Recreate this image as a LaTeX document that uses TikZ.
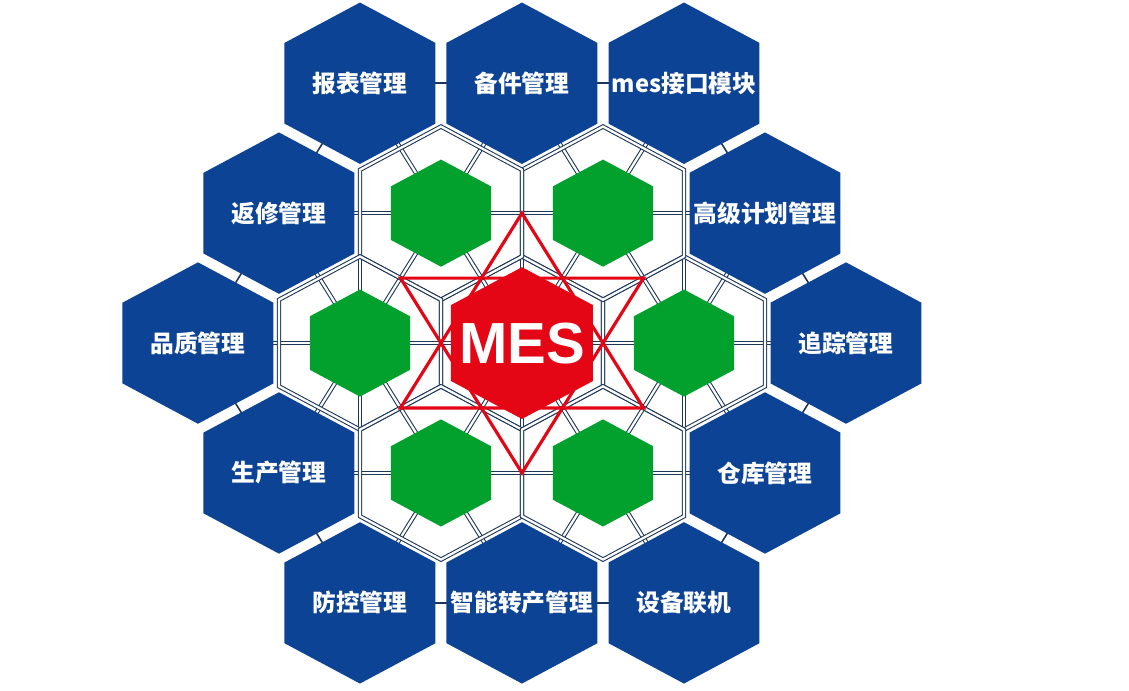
\documentclass[tikz,border=0pt]{standalone}
\usepackage{fontspec}
\usepackage{xcolor}
\usepackage{tikz}
\newfontfamily\cjk{Noto Sans CJK SC}
\newfontfamily\latin{Liberation Sans}
\definecolor{mesblue}{RGB}{13, 67, 148}
\definecolor{mesgreen}{RGB}{2, 160, 44}
\definecolor{mesred}{RGB}{228, 6, 20}
\definecolor{railgray}{RGB}{28, 54, 88}
\newcommand{\hexpath}[1]{(30:#1) -- (90:#1) -- (150:#1) -- (210:#1) -- (270:#1) -- (330:#1) -- cycle}

\begin{document}
\begin{tikzpicture}[x=3.24cm, y=3cm,
  rail/.style={draw=railgray, line width=0.6pt, double=white, double distance=1.3pt},
  link/.style={draw=railgray, line width=0.9pt},
  modlabel/.style={text=white, font=\cjk\bfseries\fontsize{13.5}{15}\selectfont},
  starline/.style={draw=mesred, line width=1.8pt}]
\useasboundingbox (-3.222,2.287) rectangle (3.747,-2.313);
\fill[white] (-3.222,2.287) rectangle (3.747,-2.313);

% cell centres: core, inner ring, outer ring
\coordinate (c0) at (0,0);
\foreach \n/\x/\y in {1/1/0, 2/0.5/0.866, 3/-0.5/0.866, 4/-1/0, 5/-0.5/-0.866, 6/0.5/-0.866}
    \coordinate (g\n) at (\x,\y);
\foreach \n/\x/\y in {1/2/0, 2/1.5/0.866, 3/1/1.732, 4/0/1.732, 5/-1/1.732, 6/-1.5/0.866,
                      7/-2/0, 8/-1.5/-0.866, 9/-1/-1.732, 10/0/-1.732, 11/1/-1.732, 12/1.5/-0.866}
    \coordinate (b\n) at (\x,\y);

% links between outer modules
\foreach \a/\b in {b1/b2, b2/b3, b3/b4, b4/b5, b5/b6, b6/b7, b7/b8, b8/b9, b9/b10, b10/b11, b11/b12, b12/b1}
    \draw[link] (\a) -- (\b);

% rails of the inner lattice
\foreach \a/\b in {c0/g1, c0/g2, c0/g3, c0/g4, c0/g5, c0/g6,
                   g1/g2, g2/g3, g3/g4, g4/g5, g5/g6, g6/g1,
                   g1/b12, g1/b1, g1/b2, g2/b2, g2/b3, g2/b4,
                   g3/b4, g3/b5, g3/b6, g4/b6, g4/b7, g4/b8,
                   g5/b8, g5/b9, g5/b10, g6/b10, g6/b11, g6/b12}
    \draw[rail] (\a) -- (\b);
\foreach \x in {-1,0,1}
    \draw[rail] (\x,1.155) -- (\x,-1.155);
\foreach \c in {c0,g1,g2,g3,g4,g5,g6}
    \draw[rail, shift={(\c)}] \hexpath{0.5774};

% outer modules
\foreach \c/\txt in {b1/追踪管理, b2/高级计划管理, b3/mes接口模块, b4/备件管理,
                     b5/报表管理, b6/返修管理, b7/品质管理, b8/生产管理,
                     b9/防控管理, b10/智能转产管理, b11/设备联机, b12/仓库管理} {
    \fill[mesblue, shift={(\c)}] \hexpath{0.538};
    \node[modlabel] (l\c) at (\c) {\txt};
}

% inner ring and core
\foreach \c in {g1,g2,g3,g4,g5,g6}
    \fill[mesgreen, shift={(\c)}] \hexpath{0.357};
\fill[mesred] \hexpath{0.506};

% star
\draw[starline] (90:0.866) -- (210:0.866) -- (330:0.866) -- cycle;
\draw[starline] (270:0.866) -- (30:0.866) -- (150:0.866) -- cycle;
\node[text=white, font=\latin\bfseries\fontsize{33}{36}\selectfont] (mes) at (c0) {MES};
\end{tikzpicture}
\end{document}
